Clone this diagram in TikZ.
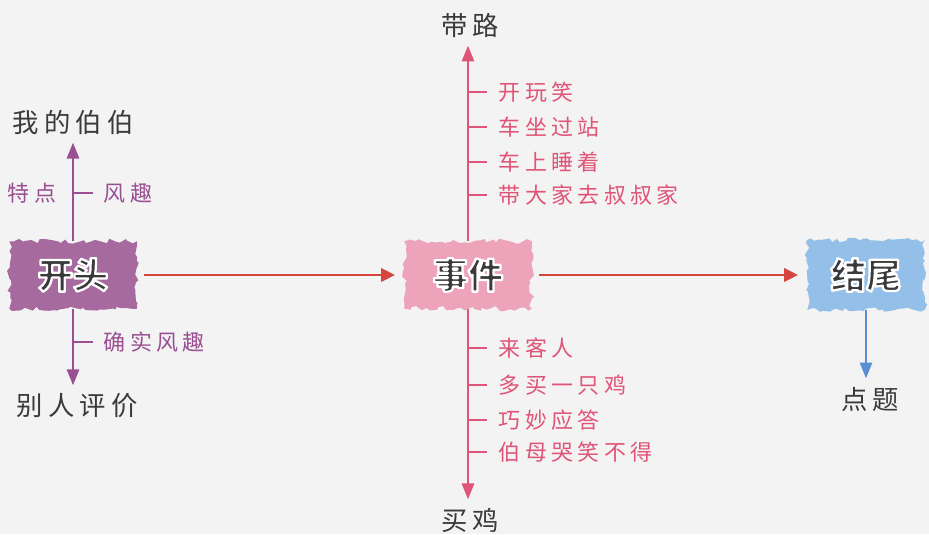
\documentclass[tikz,border=0pt]{standalone}
\usepackage{fontspec}
\usetikzlibrary{arrows.meta,decorations.pathmorphing}
\newfontfamily\cjk[LetterSpace=20]{Noto Sans CJK SC}
\newfontfamily\cjkb{Noto Sans CJK SC Black}
% white rim round the blob titles
\newcommand\halo[1]{\special{pdf:code 2 Tr 1.3 w 1 j 1 1 1 RG}#1\special{pdf:code 0 Tr}}
\definecolor{paper}{HTML}{F3F3F3}
\definecolor{plum}{HTML}{9A4F93}
\definecolor{plumblob}{HTML}{A76A9F}
\definecolor{rose}{HTML}{E05477}
\definecolor{roseblob}{HTML}{EDA3B9}
\definecolor{sky}{HTML}{5B8ED3}
\definecolor{skyblob}{HTML}{93BFE8}
\definecolor{brick}{HTML}{D6463F}
\definecolor{ink}{HTML}{3A3A3A}
\tikzset{
  blob/.style={fill=#1, minimum width=2.55cm, minimum height=1.35cm,
    decorate, decoration={random steps, segment length=2.5pt, amplitude=1.5pt},
    font=\cjkb\fontsize{20}{20}\selectfont, text=ink},
  top/.style={font=\cjk\fontsize{15}{15}\selectfont, text=ink, outer sep=4pt},
  pk/.style={font=\cjk\fontsize{12.5}{12.5}\selectfont, text=rose, anchor=west},
  pu/.style={font=\cjk\fontsize{12.5}{12.5}\selectfont, text=plum},
  tip/.style={-{Triangle[length=9pt,width=7pt]}, line width=1.1pt},
  tick/.style={line width=0.9pt},
  bigarrow/.style={-{Triangle[length=8pt,width=7.5pt]}, line width=1.7pt, brick,
    shorten <=4pt, shorten >=5pt}
}
\begin{document}
\begin{tikzpicture}[x=0.02cm,y=-0.02cm,inner sep=0.3mm]
\fill[paper] (0,0) rectangle (929,534);

\node[blob=plumblob](kt) at (73,275) {\halo{开头}};
\node[blob=roseblob](sj) at (468,275) {\halo{事件}};
\node[blob=skyblob, minimum width=2.35cm, minimum height=1.4cm](jw) at (866,275) {\halo{结尾}};

\draw[bigarrow] (kt) -- (sj);
\draw[bigarrow] (sj) -- (jw);

% opening
\node[top](bb) at (73,122) {我的伯伯};
\node[top](pj) at (77,406) {别人评价};
\draw[tip,plum] (kt.north) -- (kt.north |- bb.south);
\draw[tip,plum] (kt.south) -- (kt.south |- pj.north);
\node[pu,anchor=east](td) at (58,193) {特点};
\node[pu,anchor=west](fq) at (102,193) {风趣};
\node[pu,anchor=west](qs) at (102,342) {确实风趣};
\draw[tick,plum] (fq.west -| kt.north) -- ++(20,0);
\draw[tick,plum] (qs.west -| kt.north) -- ++(20,0);

% events
\node[top](dl) at (470,25) {带路};
\node[top](mj) at (470,520) {买鸡};
\draw[tip,rose] (sj.north) -- (sj.north |- dl.south);
\draw[tip,rose] (sj.south) -- (sj.south |- mj.north);

\node[pk](a1) at (497,92) {开玩笑};
\node[pk](a2) at (497,127) {车坐过站};
\node[pk](a3) at (497,162) {车上睡着};
\node[pk](a4) at (497,195) {带大家去叔叔家};
\draw[tick,rose] (a1.west -| sj.north) -- ++(19,0);
\draw[tick,rose] (a2.west -| sj.north) -- ++(19,0);
\draw[tick,rose] (a3.west -| sj.north) -- ++(19,0);
\draw[tick,rose] (a4.west -| sj.north) -- ++(19,0);

\node[pk](b1) at (497,348) {来客人};
\node[pk](b2) at (497,385) {多买一只鸡};
\node[pk](b3) at (497,420) {巧妙应答};
\node[pk](b4) at (497,452) {伯母哭笑不得};
\draw[tick,rose] (b1.west -| sj.south) -- ++(19,0);
\draw[tick,rose] (b2.west -| sj.south) -- ++(19,0);
\draw[tick,rose] (b3.west -| sj.south) -- ++(19,0);
\draw[tick,rose] (b4.west -| sj.south) -- ++(19,0);

% ending
\node[top](dt) at (870,399) {点题};
\draw[tip,sky] (jw.south) -- (jw.south |- dt.north);

\end{tikzpicture}
\end{document}
